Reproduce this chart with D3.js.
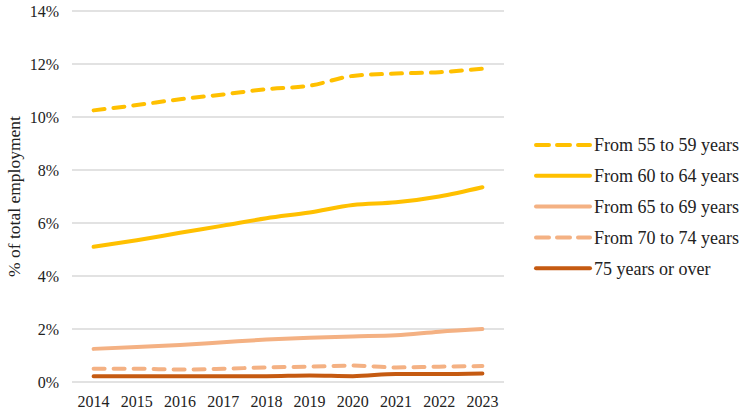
<!DOCTYPE html>
<html>
<head>
<meta charset="utf-8">
<script src="https://cdn.jsdelivr.net/npm/d3@7"></script>
<style>
  body { margin: 0; background: #fff; }
</style>
</head>
<body>
<svg id="chart"></svg>
<script>
const years = ["2014", "2015", "2016", "2017", "2018", "2019", "2020", "2021", "2022", "2023"]
const yTicks = [0, 2, 4, 6, 8, 10, 12, 14]

const from55to59 = [10.25, 10.45, 10.67, 10.85, 11.05, 11.18, 11.55, 11.64, 11.69, 11.82]
const from60to64 = [5.1, 5.35, 5.63, 5.9, 6.18, 6.4, 6.68, 6.78, 7.0, 7.35]
const from65to69 = [1.25, 1.32, 1.4, 1.5, 1.6, 1.67, 1.72, 1.76, 1.9, 2.0]
const from70to74 = [0.5, 0.5, 0.47, 0.5, 0.55, 0.58, 0.62, 0.55, 0.58, 0.6]
const over75 = [0.22, 0.22, 0.22, 0.22, 0.22, 0.25, 0.22, 0.3, 0.3, 0.32]

const series = [
  { name: "From 55 to 59 years", values: from55to59, color: "#ffc000", dash: "11,9" },
  { name: "From 60 to 64 years", values: from60to64, color: "#ffc000", dash: null },
  { name: "From 65 to 69 years", values: from65to69, color: "#f4b183", dash: null },
  { name: "From 70 to 74 years", values: from70to74, color: "#f4b183", dash: "11,9" },
  { name: "75 years or over", values: over75, color: "#c55a11", dash: null }
]

const width = 747, height = 412
const margin = { left: 72, right: 243, top: 11, bottom: 30 }
const serif = "'Liberation Serif', 'Times New Roman', 'DejaVu Serif', serif"

const svg = d3.select("#chart")
  .attr("width", width)
  .attr("height", height)
  .attr("font-family", serif)

const x = d3.scalePoint()
  .domain(years)
  .range([margin.left, width - margin.right])
  .padding(0.5)

const y = d3.scaleLinear()
  .domain([0, 14])
  .range([height - margin.bottom, margin.top])

// gridlines
svg.append("g")
  .selectAll("line")
  .data(yTicks)
  .enter().append("line")
  .attr("x1", margin.left)
  .attr("x2", width - margin.right)
  .attr("y1", d => y(d))
  .attr("y2", d => y(d))
  .attr("stroke", "#d9d9d9")
  .attr("stroke-width", 1.3)

svg.append("g")
  .selectAll("text")
  .data(yTicks)
  .enter().append("text")
  .attr("x", margin.left - 13)
  .attr("y", d => y(d))
  .attr("dy", "0.35em")
  .attr("text-anchor", "end")
  .attr("font-family", serif)
  .attr("font-size", 16)
  .attr("fill", "#222")
  .text(d => d + "%")

svg.append("g")
  .selectAll("text")
  .data(years)
  .enter().append("text")
  .attr("x", d => x(d))
  .attr("y", height - margin.bottom + 25)
  .attr("text-anchor", "middle")
  .attr("font-family", serif)
  .attr("font-size", 16)
  .attr("fill", "#222")
  .text(d => d)

svg.append("text")
  .attr("transform", "translate(20," + y(7) + ") rotate(-90)")
  .attr("text-anchor", "middle")
  .attr("font-family", serif)
  .attr("font-size", 17.5)
  .attr("fill", "#222")
  .text("% of total employment")

const line = d3.line()
  .x((d, i) => x(years[i]))
  .y(d => y(d))
  .curve(d3.curveMonotoneX)

svg.append("g")
  .selectAll("path")
  .data(series.slice().reverse())
  .enter().append("path")
  .attr("d", d => line(d.values))
  .attr("fill", "none")
  .attr("stroke", d => d.color)
  .attr("stroke-width", 4)
  .attr("stroke-linecap", "round")
  .attr("stroke-dasharray", d => d.dash)

// legend
const legend = svg.append("g")
  .selectAll("g")
  .data(series)
  .enter().append("g")
  .attr("transform", (d, i) => "translate(536," + (145 + i * 30.8) + ")")

legend.append("line")
  .attr("x1", 0)
  .attr("x2", 54)
  .attr("stroke", d => d.color)
  .attr("stroke-width", 4)
  .attr("stroke-linecap", "round")
  .attr("stroke-dasharray", d => d.dash ? "13,8" : null)

legend.append("text")
  .attr("x", 58)
  .attr("dy", "0.35em")
  .attr("font-family", serif)
  .attr("font-size", 18)
  .attr("fill", "#222")
  .text(d => d.name)
</script>
</body>
</html>
